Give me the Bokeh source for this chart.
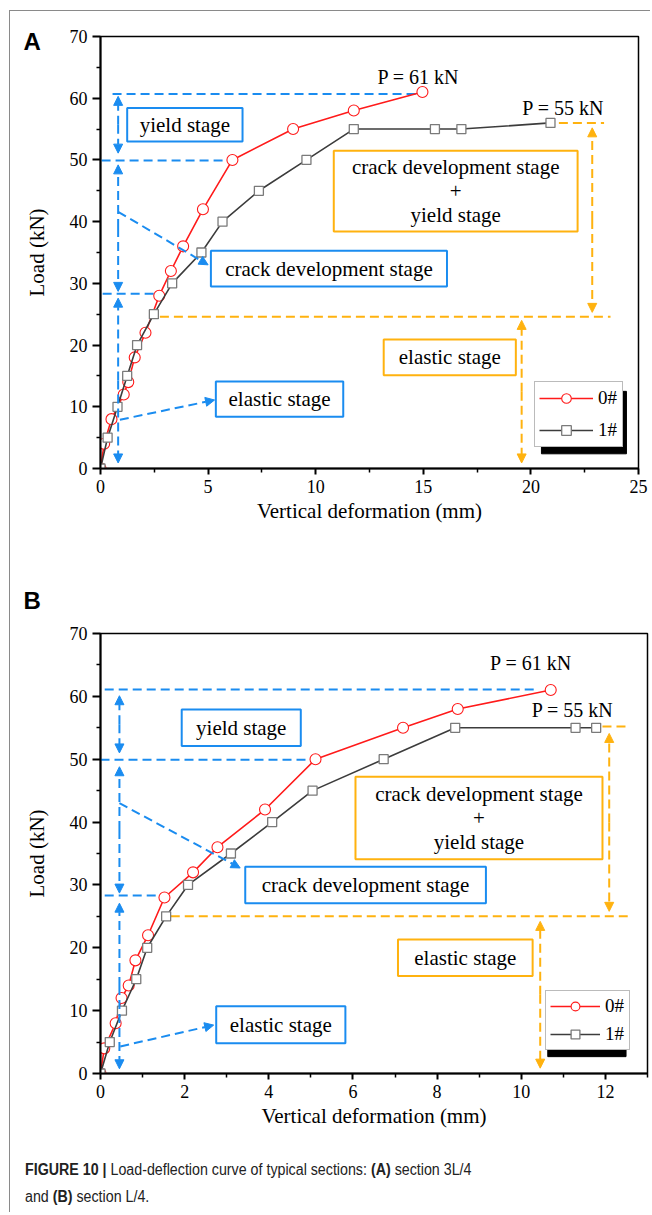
from bokeh.plotting import figure
from bokeh.models import (Range1d, FixedTicker, Label, Arrow, NormalHead,
                          BoxAnnotation, Legend, LegendItem, Div, Title)
from bokeh.layouts import column
from bokeh.embed import file_html
from bokeh.resources import INLINE

# ---------------- data ----------------
# Panel A (section 3L/4)
a_x0 = [0, 0.17, 0.51, 1.08, 1.29, 1.59, 2.09, 2.73, 3.27, 3.84, 4.76, 6.13, 8.95, 11.77, 14.96]
a_y0 = [0, 4, 8, 12, 14, 18, 22, 28, 32, 36, 42, 50, 55, 58, 61]
a_x1 = [0, 0.33, 0.79, 1.24, 1.70, 2.48, 3.33, 4.69, 5.67, 7.36, 9.57, 11.77, 15.54, 16.77, 20.91]
a_y1 = [0, 5, 10, 15, 20, 25, 30, 35, 40, 45, 50, 55, 55, 55, 56]
# Panel B (section L/4)
b_x0 = [0, 0.09, 0.36, 0.50, 0.67, 0.83, 1.13, 1.52, 2.20, 2.78, 3.91, 5.11, 7.19, 8.49, 10.70]
b_y0 = [0, 4, 8, 12, 14, 18, 22, 28, 32, 36, 42, 50, 55, 58, 61]
b_x1 = [0, 0.22, 0.51, 0.85, 1.11, 1.56, 2.08, 3.10, 4.08, 5.04, 6.73, 8.43, 11.29, 11.78]
b_y1 = [0, 5, 10, 15, 20, 25, 30, 35, 40, 45, 50, 55, 55, 55]

series_names = ["0#", "1#"]
peak_labels = ["P = 61 kN", "P = 55 kN"]
x_label = "Vertical deformation (mm)"
y_label = "Load (kN)"

# ---------------- styles ----------------
BLUE = "#1a8cf0"
ORANGE = "#ffb20f"
RED = "#ff1a1a"
GRAY_LINE = "#3c3c3c"
GRAY_MK = "#7a7a7a"
SERIF = "Liberation Serif"
DASH = "9 5"

# annotation layouts (positions in data units of each panel)
layout_A = dict(
    letter=("A", -77, -36),
    blue_h=[(60.7, 0.56, 14.75), (49.9, 0.05, 6.1), (28.3, 0.1, 2.5)],
    blue_v=(0.82, [(60.3, 51.1), (49.2, 28.7), (27.6, 0.9)]),
    blue_diag=[(0.82, 41.6, 5.0, 33.0), (0.9, 7.9, 5.3, 11.1)],
    blue_box=[(1.24, 6.6, 53.0, 58.4, ["yield stage"]),
              (5.13, 16.1, 29.5, 35.3, ["crack development stage"]),
              (5.36, 11.28, 8.4, 14.1, ["elastic stage"])],
    orange_box=[(10.84, 22.17, 38.4, 51.5, ["crack development stage", "+", "yield stage"]),
                (13.16, 19.3, 15.1, 20.9, ["elastic stage"])],
    orange_h=[(56.0, 21.3, 23.4), (24.6, 2.76, 23.7)],
    orange_v=[(22.85, 55.2, 25.3), (19.57, 24.0, 0.9)],
    peaks=[(14.77, 63.5), (21.5, 58.4)],
    legend=dict(loc=(434, 21), glyph_w=54, row_h=24, spacing=8),
    shadow=(20.49, 24.44, 2.38, 12.5),
)
layout_B = dict(
    letter=("B", -77, 40),
    blue_h=[(61.1, 0.1, 10.38), (49.9, 0.0, 5.05), (28.3, 0.1, 1.4)],
    blue_v=(0.45, [(60.1, 51.0), (48.8, 28.7), (27.1, 0.75)]),
    blue_diag=[(0.45, 43.0, 3.32, 32.7), (0.47, 4.3, 2.69, 7.7)],
    blue_box=[(1.93, 4.76, 52.1, 57.9, ["yield stage"]),
              (3.44, 9.16, 27.1, 32.9, ["crack development stage"]),
              (2.75, 5.82, 4.8, 10.7, ["elastic stage"])],
    orange_box=[(6.06, 11.93, 34.1, 47.2, ["crack development stage", "+", "yield stage"]),
                (7.07, 10.27, 15.5, 21.3, ["elastic stage"])],
    orange_h=[(55.2, 11.93, 12.58), (25.0, 1.67, 12.53)],
    orange_v=[(12.09, 54.1, 25.8), (10.45, 24.2, 0.85)],
    peaks=[(10.23, 65.3), (11.22, 57.9)],
    legend=dict(loc=(445, 23), glyph_w=50, row_h=22, spacing=6),
    shadow=(10.63, 12.49, 2.68, 11.9),
)


def make_panel(xs0, ys0, xs1, ys1, xmax, xticks, xminor, frame_w, frame_h,
               borders, lay):
    left, top, right, bottom = borders
    letter, loff, lstand = lay["letter"]
    p = figure(frame_width=frame_w, frame_height=frame_h,
               x_range=Range1d(0, xmax), y_range=Range1d(0, 70),
               output_backend="svg", toolbar_location=None,
               min_border_left=left, min_border_top=top,
               min_border_right=right, min_border_bottom=bottom,
               background_fill_color="white", border_fill_color="white",
               title=Title(text=letter, align="left", offset=loff,
                           standoff=lstand, text_font="Liberation Sans",
                           text_font_style="bold", text_font_size="24px",
                           text_color="black"))
    p.grid.visible = False
    p.outline_line_color = "black"
    p.outline_line_width = 1.5
    p.outline_line_alpha = 1

    p.xaxis.ticker = FixedTicker(ticks=xticks, minor_ticks=xminor)
    p.yaxis.ticker = FixedTicker(ticks=list(range(0, 71, 10)),
                                 minor_ticks=list(range(5, 71, 10)))
    for ax in (p.xaxis[0], p.yaxis[0]):
        ax.axis_line_width = 2
        ax.axis_line_color = "black"
        ax.major_tick_line_width = 2
        ax.major_tick_in = 0
        ax.minor_tick_in = 0
        ax.minor_tick_line_width = 1.5
        ax.minor_tick_out = 4
        ax.major_label_text_font = SERIF
        ax.major_label_text_font_size = "18px"
        ax.major_label_text_color = "black"
        ax.axis_label_text_font = SERIF
        ax.axis_label_text_font_size = "21px"
        ax.axis_label_text_font_style = "normal"
        ax.axis_label_text_color = "black"
    p.xaxis.major_tick_out = 6
    p.yaxis.major_tick_out = 8
    p.xaxis.major_label_standoff = 5
    p.yaxis.major_label_standoff = 5
    p.xaxis.axis_label = x_label
    p.yaxis.axis_label = y_label
    p.xaxis.axis_label_standoff = 3
    p.yaxis.axis_label_standoff = 18

    # --- blue dashed guides ---
    for (y, x0, x1) in lay["blue_h"]:
        p.segment(x0=x0, y0=y, x1=x1, y1=y, line_color=BLUE, line_width=2,
                  line_dash=DASH)
    vx, spans = lay["blue_v"]
    for (ya, yb) in spans:
        for yend in (ya, yb):
            p.add_layout(Arrow(x_start=vx, y_start=(ya + yb) / 2, x_end=vx, y_end=yend,
                               line_color=BLUE, line_width=2, line_dash=DASH,
                               end=NormalHead(size=9, fill_color=BLUE, line_color=BLUE)))
    for (xa, ya, xb, yb) in lay["blue_diag"]:
        p.add_layout(Arrow(x_start=xa, y_start=ya, x_end=xb, y_end=yb,
                           line_color=BLUE, line_width=2, line_dash=DASH,
                           end=NormalHead(size=9, fill_color=BLUE, line_color=BLUE)))

    # --- orange dashed guides ---
    for (y, x0, x1) in lay["orange_h"]:
        p.segment(x0=x0, y0=y, x1=x1, y1=y, line_color=ORANGE, line_width=2,
                  line_dash=DASH)
    for (x, ya, yb) in lay["orange_v"]:
        for yend in (ya, yb):
            p.add_layout(Arrow(x_start=x, y_start=(ya + yb) / 2, x_end=x, y_end=yend,
                               line_color=ORANGE, line_width=2, line_dash=DASH,
                               end=NormalHead(size=9, fill_color=ORANGE, line_color=ORANGE)))

    # --- boxes with text ---
    def box(x0, x1, y0, y1, lines, color):
        p.add_layout(BoxAnnotation(left=x0, right=x1, bottom=y0, top=y1,
                                   fill_color="white", fill_alpha=1,
                                   line_color=color, line_width=2, line_alpha=1))
        n = len(lines)
        yc = (y0 + y1) / 2
        step = (y1 - y0) / (n + 0.4) if n > 1 else 0
        for i, t in enumerate(lines):
            p.add_layout(Label(x=(x0 + x1) / 2, y=yc + (n - 1) / 2 * step - i * step,
                               text=t, text_font=SERIF, text_font_size="21px",
                               text_align="center", text_baseline="middle",
                               text_color="black"))

    for b in lay["blue_box"]:
        box(*b[:4], b[4], BLUE)
    for b in lay["orange_box"]:
        box(*b[:4], b[4], ORANGE)

    # --- data ---
    r0l = p.line(xs0, ys0, line_color=RED, line_width=1.6)
    r0m = p.scatter(xs0, ys0, marker="circle", size=11, fill_color="white",
                    line_color=RED, line_width=1.1)
    r1l = p.line(xs1, ys1, line_color=GRAY_LINE, line_width=1.6)
    r1m = p.scatter(xs1, ys1, marker="square", size=9, fill_color="white",
                    line_color=GRAY_MK, line_width=1.3)

    for (txt, (x, y)) in zip(peak_labels, lay["peaks"]):
        p.add_layout(Label(x=x, y=y, text=txt, text_font=SERIF,
                           text_font_size="20px", text_align="center",
                           text_baseline="middle", text_color="black"))

    # legend shadow + legend
    sx0, sx1, sy0, sy1 = lay["shadow"]
    p.add_layout(BoxAnnotation(left=sx0, right=sx1, bottom=sy0, top=sy1,
                               fill_color="black", fill_alpha=1,
                               line_color="black", line_alpha=1))
    lg = lay["legend"]
    legend = Legend(items=[LegendItem(label=series_names[0], renderers=[r0l, r0m]),
                           LegendItem(label=series_names[1], renderers=[r1l, r1m])],
                    location=lg["loc"], orientation="vertical",
                    glyph_width=lg["glyph_w"], glyph_height=lg["row_h"],
                    label_height=lg["row_h"], spacing=lg["spacing"],
                    padding=4, margin=0, label_standoff=5,
                    label_text_font=SERIF, label_text_font_size="19px",
                    label_text_color="black",
                    border_line_color="#777777", border_line_width=1,
                    background_fill_color="white", background_fill_alpha=1)
    p.add_layout(legend, "center")
    return p


pA = make_panel(a_x0, a_y0, a_x1, a_y1, 25, [0, 5, 10, 15, 20, 25],
                [2.5, 7.5, 12.5, 17.5, 22.5], 538, 432, (90, 25, 12, 93), layout_A)
pB = make_panel(b_x0, b_y0, b_x1, b_y1, 13, [0, 2, 4, 6, 8, 10, 12],
                [1, 3, 5, 7, 9, 11, 13], 547, 440, (86, 72, 7, 63), layout_B)

line_style = ("line-height:20px;transform:scaleX(0.89);transform-origin:0 0;")
caption_html = (
    '<div style="padding:24px 0 0 15px;font-family:\'Liberation Sans Narrow\','
    '\'Liberation Sans\',sans-serif;font-size:16px;color:#222;white-space:nowrap;">'
    '<div style="' + line_style + '"><b>FIGURE 10 |</b> Load-deflection curve of typical '
    'sections: <b>(A)</b> section 3L/4</div>'
    '<div style="' + line_style + 'margin-top:7px;">and <b>(B)</b> section L/4.</div>'
    '</div>'
)
cap = Div(text=caption_html, width=640, height=76, margin=(0, 0, 0, 0))

layout = column(pA, pB, cap, spacing=0, margin=(10, 0, 0, 9),
                styles={"border-left": "1px solid #8a8a8a",
                        "border-top": "1px solid #8a8a8a"})

open("out.html", "w").write(file_html(layout, INLINE))
